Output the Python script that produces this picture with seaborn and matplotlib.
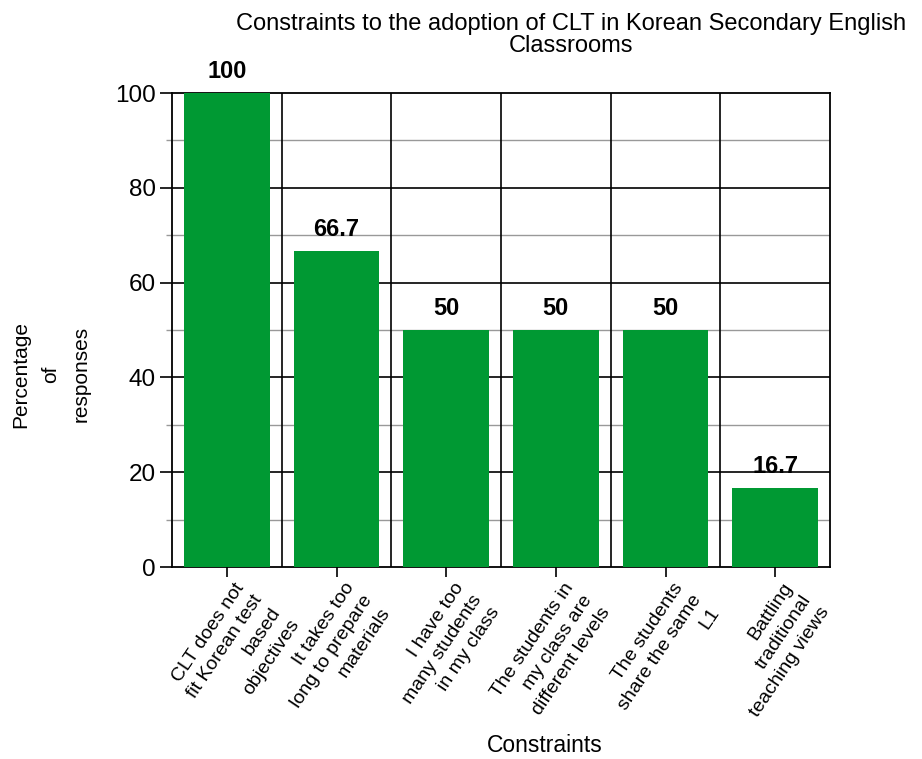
import matplotlib
matplotlib.use("Agg")
import matplotlib.pyplot as plt
import matplotlib.transforms as mtransforms
import seaborn as sns
import pandas as pd
import numpy as np

categories = [
    "CLT does not\nfit Korean test\nbased\nobjectives",
    "It takes too\nlong to prepare\nmaterials",
    "I have too\nmany students\nin my class",
    "The students in\nmy class are\ndifferent levels",
    "The students\nshare the same\nL1",
    "Battling\ntraditional\nteaching views",
]
values = [100, 66.7, 50, 50, 50, 16.7]
value_labels = ["100", "66.7", "50", "50", "50", "16.7"]
y_ticks = [0, 20, 40, 60, 80, 100]
y_minor = [10, 30, 50, 70, 90]

sns.set_theme(style="white")
plt.rcParams["font.family"] = ["Liberation Sans", "DejaVu Sans"]
plt.rcParams["text.color"] = "black"
plt.rcParams["xtick.color"] = "black"
plt.rcParams["ytick.color"] = "black"

df = pd.DataFrame({"Constraint": categories, "Percentage": values})

fig = plt.figure(figsize=(9.22, 7.59), dpi=100)
ax = fig.add_axes([172 / 922, 1 - 567 / 759, (830 - 172) / 922, (567 - 93) / 759])

sns.barplot(data=df, x="Constraint", y="Percentage", color="#009933",
            saturation=1, width=0.78, ax=ax, zorder=3, linewidth=0)

ax.set_ylim(0, 100)
ax.set_xlim(-0.5, len(categories) - 0.5)
ax.set_yticks(y_ticks)
ax.set_yticks(y_minor, minor=True)
ax.tick_params(axis="y", which="major", length=8.6, width=1.2, color="black",
               labelsize=17.5, pad=3, direction="out", left=True,
               labelcolor="black")
ax.tick_params(axis="y", which="minor", length=4.3, width=1, color="#999999",
               direction="out", left=True)
ax.tick_params(axis="x", length=7.2, width=1.2, color="black", direction="out",
               bottom=True, pad=2, labelcolor="black")

for y in y_ticks[1:-1]:
    ax.axhline(y, color="black", lw=1.2, zorder=1)
for y in y_minor:
    ax.axhline(y, color="#999999", lw=1, zorder=1)
for i in range(len(categories) - 1):
    ax.axvline(i + 0.5, color="black", lw=1.2, zorder=1)

for s in ax.spines.values():
    s.set_color("black")
    s.set_linewidth(1.3)
    s.set_visible(True)

ax.set_xticks(range(len(categories)))
ax.set_xticklabels(categories, rotation=56, ha="right", va="top",
                   rotation_mode="anchor", fontsize=14,
                   multialignment="right", linespacing=1.38)
offset = mtransforms.ScaledTranslation(7 / 100, 0, fig.dpi_scale_trans)
for lab in ax.get_xticklabels():
    lab.set_transform(lab.get_transform() + offset)

for i, (v, lab) in enumerate(zip(values, value_labels)):
    ax.annotate(lab, (i, v), xytext=(0, 7), textcoords="offset points",
                ha="center", va="bottom", fontsize=17, fontweight="bold",
                annotation_clip=False)

ax.set_xlabel("")
ax.set_ylabel("")
fig.text(51 / 922, 1 - 374 / 759, "Percentage\nof\nresponses", ha="center",
         va="center", fontsize=15, multialignment="center", rotation=90,
         linespacing=1.75)
fig.text(545 / 922, 1 - 745 / 759, "Constraints", ha="center", va="center",
         fontsize=16.5)
fig.text(571 / 922, 1 - 35 / 759,
         "Constraints to the adoption of CLT in Korean Secondary English\nClassrooms",
         ha="center", va="center", fontsize=17, multialignment="center",
         linespacing=0.95)

fig.savefig("out.png", dpi=100)
